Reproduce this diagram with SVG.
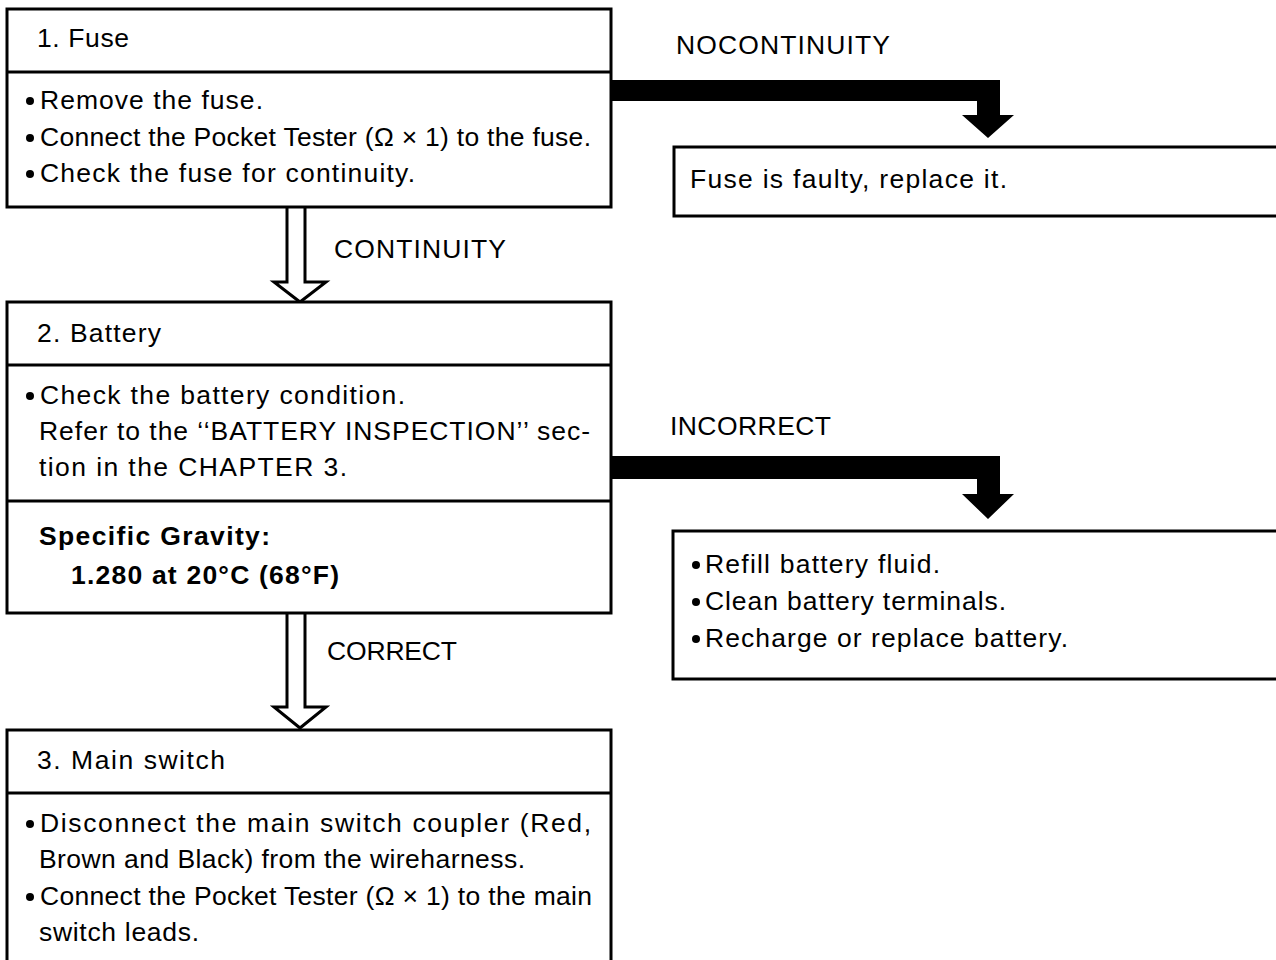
<svg xmlns="http://www.w3.org/2000/svg" width="1276" height="960" viewBox="0 0 1276 960">
<style>
.box{fill:#fff;stroke:#000;stroke-width:3}
.sep{stroke:#000;stroke-width:3}
text{font-family:"Liberation Sans",Arial,sans-serif;font-size:26.5px;fill:#000}
.b{font-weight:bold}
.hollow{fill:#fff;stroke:#000;stroke-width:3;stroke-linejoin:miter}
.solid{fill:#000;stroke:none}
.dot{fill:#000}
</style>
<rect width="1276" height="960" fill="#fff"/>
<g id="connectors">
<path class="hollow" d="M287,207 V282 H274 L300,302 L326,282 H305 V207"/>
<path class="hollow" d="M287,613 V707 H274 L300,728 L326,707 H305 V613"/>
<path class="solid" d="M611,80 H1000 V115 H1014 L988,138 L962,115 H977 V101 H611 Z"/>
<path class="solid" d="M611,456 H1000 V494 H1014 L988,519 L962,494 H977 V479 H611 Z"/>
<text x="334" y="258" textLength="172" lengthAdjust="spacing">CONTINUITY</text>
<text x="327" y="660" textLength="130" lengthAdjust="spacing">CORRECT</text>
<text x="676" y="54" textLength="214" lengthAdjust="spacing">NOCONTINUITY</text>
<text x="670" y="435" textLength="161" lengthAdjust="spacing">INCORRECT</text>
</g>
<g id="node1">
<rect class="box" x="7" y="9" width="604" height="198"/>
<line class="sep" x1="7" y1="72" x2="611" y2="72"/>
<text x="37" y="47" textLength="92" lengthAdjust="spacing">1. Fuse</text>
<circle class="dot" cx="30" cy="101" r="4"/>
<text x="40" y="109" textLength="223" lengthAdjust="spacing">Remove the fuse.</text>
<circle class="dot" cx="30" cy="138" r="4"/>
<text x="40" y="146" textLength="551" lengthAdjust="spacing">Connect the Pocket Tester (Ω × 1) to the fuse.</text>
<circle class="dot" cx="30" cy="174" r="4"/>
<text x="40" y="182" textLength="375" lengthAdjust="spacing">Check the fuse for continuity.</text>
</g>
<g id="node-fuse-faulty">
<rect class="box" x="674" y="147" width="610" height="69"/>
<text x="690" y="188" textLength="317" lengthAdjust="spacing">Fuse is faulty, replace it.</text>
</g>
<g id="node2">
<rect class="box" x="7" y="302" width="604" height="311"/>
<line class="sep" x1="7" y1="365" x2="611" y2="365"/>
<line class="sep" x1="7" y1="501" x2="611" y2="501"/>
<text x="37" y="342" textLength="124" lengthAdjust="spacing">2. Battery</text>
<circle class="dot" cx="30" cy="396" r="4"/>
<text x="40" y="404" textLength="365" lengthAdjust="spacing">Check the battery condition.</text>
<text x="39" y="440" textLength="551" lengthAdjust="spacing">Refer to the ‘‘BATTERY INSPECTION’’ sec-</text>
<text x="39" y="476" textLength="308" lengthAdjust="spacing">tion in the CHAPTER 3.</text>
<text class="b" x="39" y="545" textLength="231" lengthAdjust="spacing">Specific Gravity:</text>
<text class="b" x="71" y="584" textLength="268" lengthAdjust="spacing">1.280 at 20°C (68°F)</text>
</g>
<g id="node-battery-fix">
<rect class="box" x="673" y="531" width="611" height="148"/>
<circle class="dot" cx="696" cy="565" r="4"/>
<text x="705" y="573" textLength="235" lengthAdjust="spacing">Refill battery fluid.</text>
<circle class="dot" cx="696" cy="602" r="4"/>
<text x="705" y="610" textLength="301" lengthAdjust="spacing">Clean battery terminals.</text>
<circle class="dot" cx="696" cy="639" r="4"/>
<text x="705" y="647" textLength="363" lengthAdjust="spacing">Recharge or replace battery.</text>
</g>
<g id="node3">
<rect class="box" x="7" y="730" width="604" height="250"/>
<line class="sep" x1="7" y1="793" x2="611" y2="793"/>
<text x="37" y="769" textLength="188" lengthAdjust="spacing">3. Main switch</text>
<circle class="dot" cx="30" cy="824" r="4"/>
<text x="40" y="832" textLength="551" lengthAdjust="spacing">Disconnect the main switch coupler (Red,</text>
<text x="39" y="868" textLength="486" lengthAdjust="spacing">Brown and Black) from the wireharness.</text>
<circle class="dot" cx="30" cy="897" r="4"/>
<text x="40" y="905" textLength="552" lengthAdjust="spacing">Connect the Pocket Tester (Ω × 1) to the main</text>
<text x="39" y="941" textLength="160" lengthAdjust="spacing">switch leads.</text>
</g>
</svg>
